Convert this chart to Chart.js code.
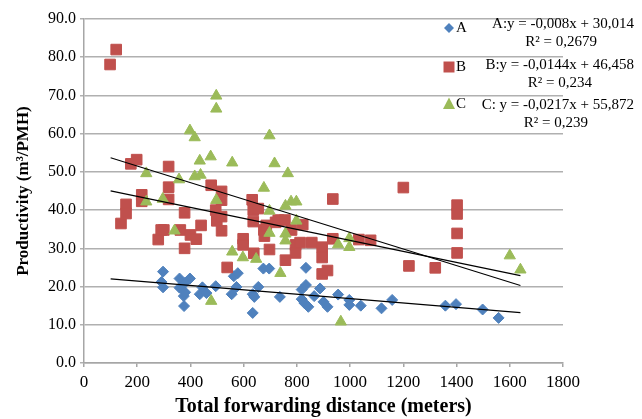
<!DOCTYPE html>
<html>
<head>
<meta charset="utf-8">
<script src="https://cdn.jsdelivr.net/npm/chart.js@4.4.1/dist/chart.umd.min.js"></script>
<style>
  body { margin: 0; background: #fff; }
  #wrap { width: 642px; height: 419px; }
</style>
</head>
<body>
<div id="wrap"><canvas id="myChart" width="642" height="419"></canvas></div>
<script>
// series names and colours
const seriesNames = ['A', 'B', 'C'];
const seriesColors = ['#4F81BD', '#C0504D', '#9BBB59'];

// A: [distance, productivity]
const dataA = [
  [297,23.9],[291,21.2],[297,19.8],[359,22.1],[359,19.7],[398,22.1],[380,21.0],[375,17.5],
  [376,14.9],[380,18.5],[435,18.0],[445,19.8],[460,18.3],[495,20.1],[555,18.0],[563,22.7],
  [573,19.9],[578,23.5],[634,18.0],[634,13.1],[640,17.3],[655,19.9],[674,24.7],[696,24.7],
  [736,17.3],[834,24.9],[818,19.2],[834,20.4],[818,16.7],[828,15.7],[843,14.7],[865,17.5],
  [887,19.5],[900,16.0],[915,14.7],[955,17.9],[997,16.5],[997,15.2],[1040,15.0],[1118,14.3],
  [1158,16.5],[1358,15.0],[1398,15.4],[1498,14.0],[1558,11.8]
];
// B
const dataB = [
  [98,78.1],[121,82.0],[139,36.5],[158,41.5],[158,39.1],[176,52.1],[198,53.2],[217,44.0],
  [217,42.3],[279,32.3],[290,34.8],[300,34.8],[318,51.4],[318,46.0],[318,42.8],[362,34.8],
  [378,39.3],[378,30.0],[400,33.5],[422,32.4],[440,36.0],[478,46.5],[495,40.0],[499,37.2],
  [517,44.9],[517,42.6],[517,38.3],[517,34.6],[538,25.0],[598,32.5],[598,30.9],[632,42.7],
  [636,40.0],[636,37.0],[638,28.7],[655,40.4],[676,34.8],[678,33.2],[685,36.0],[697,29.7],
  [720,36.8],[730,37.4],[755,37.4],[757,26.9],[780,34.8],[795,30.9],[795,28.8],[812,31.5],
  [822,36.2],[856,31.5],[895,30.3],[895,27.6],[895,23.3],[915,24.2],[935,42.9],[935,32.5],
  [1033,32.3],[1077,32.1],[1200,45.9],[1221,25.4],[1320,24.9],[1402,41.3],[1402,39.0],
  [1402,33.9],[1402,28.8]
];
// C
const dataC = [
  [234,49.6],[234,42.2],[296,42.9],[340,34.6],[357,48.0],[398,60.8],[416,59.0],[416,48.8],
  [435,52.9],[438,49.2],[476,54.0],[478,16.2],[497,69.9],[497,66.5],[497,42.6],[557,52.4],
  [557,29.1],[597,27.6],[647,27.2],[676,45.8],[697,59.5],[697,39.8],[697,34.0],[716,52.2],
  [738,23.5],[757,41.1],[757,33.8],[757,32.0],[766,49.6],[778,42.2],[798,42.2],[798,37.2],
  [955,31.0],[965,10.8],[997,32.6],[997,30.3],[1600,28.1],[1640,24.4]
];

// trend lines as drawn (slope, intercept) over this distance range
const trendSlope = [-0.00575, -0.0144, -0.0217];
const trendIntercept = [22.6, 46.458, 55.872];
const trendRange = [100, 1640];

// legend texts
const legendEq = ['A:y = -0,008x + 30,014', 'B:y = -0,0144x + 46,458', 'C: y = -0,0217x + 55,872'];
const legendR2 = ['R\u00b2 = 0,2679', 'R\u00b2 = 0,234', 'R\u00b2 = 0,239'];

const serif = "'Liberation Serif', 'Times New Roman', serif";

function toPts(arr) {
  return arr.map(function (p) { return { x: p[0], y: p[1] }; });
}

const pointStyles = ['rectRot', 'rect', 'triangle'];
const pointSizes = [5.5, 7.5, 6.5];
const allData = [dataA, dataB, dataC];

let datasets = [];
for (let i = 0; i < 3; i++) {
  let line = trendRange.map(function (x) {
    return { x: x, y: trendSlope[i] * x + trendIntercept[i] };
  });
  datasets.push({
    type: 'line',
    label: 'trend ' + seriesNames[i],
    data: line,
    borderColor: '#000',
    borderWidth: 1.2,
    pointRadius: 0,
    fill: false,
    order: 0
  });
}
for (let i = 0; i < 3; i++) {
  datasets.push({
    type: 'scatter',
    label: seriesNames[i],
    data: toPts(allData[i]),
    backgroundColor: seriesColors[i],
    borderColor: seriesColors[i],
    borderWidth: 1,
    pointStyle: pointStyles[i],
    pointRadius: pointSizes[i],
    order: 3 - i
  });
}

// custom legend with the regression equations
const eqLegend = {
  id: 'eqLegend',
  afterDraw(chart) {
    const ctx = chart.ctx;
    const markY = [28, 67, 104];
    const eqY = [24, 65, 105];
    const r2Y = [42, 83, 123];
    const r2Right = [597, 592, 588];
    ctx.save();
    for (let i = 0; i < 3; i++) {
      const y = markY[i];
      const mx = 449;
      ctx.fillStyle = seriesColors[i];
      ctx.beginPath();
      if (i === 0) {
        ctx.moveTo(mx - 5, y); ctx.lineTo(mx, y - 5); ctx.lineTo(mx + 5, y); ctx.lineTo(mx, y + 5);
      } else if (i === 1) {
        ctx.rect(mx - 5.5, y - 5.5, 11, 11);
      } else {
        ctx.moveTo(mx, y - 6.5); ctx.lineTo(mx + 6, y + 5); ctx.lineTo(mx - 6, y + 5);
      }
      ctx.closePath();
      ctx.fill();

      ctx.fillStyle = '#000';
      ctx.font = '15px ' + serif;
      ctx.textBaseline = 'middle';
      ctx.textAlign = 'left';
      ctx.fillText(seriesNames[i], 456, y);
      ctx.textAlign = 'right';
      ctx.fillText(legendEq[i], 634, eqY[i]);
      ctx.fillText(legendR2[i], r2Right[i], r2Y[i]);
    }
    ctx.restore();
  }
};

const config = {
  type: 'scatter',
  data: { datasets: datasets },
  options: {
    responsive: false,
    animation: false,
    devicePixelRatio: 1,
    layout: { padding: { left: 0, top: 19, right: 79, bottom: 0 } },
    plugins: {
      legend: { display: false },
      tooltip: { enabled: false }
    },
    scales: {
      x: {
        type: 'linear',
        min: 0, max: 1800,
        afterFit(scale) { scale.height = 56; },
        ticks: {
          stepSize: 200,
          color: '#000',
          padding: 5,
          maxRotation: 0,
          font: { family: serif, size: 17 },
          callback: function (v) { return String(v); }
        },
        grid: { drawOnChartArea: false, drawTicks: true, tickLength: 4, color: '#a6a6a6', lineWidth: 1.5 },
        border: { color: '#a6a6a6', width: 1.5 },
        title: {
          display: true,
          text: 'Total forwarding distance (meters)',
          color: '#000',
          font: { family: serif, size: 20, weight: 'bold' },
          padding: { top: 0, bottom: 0 }
        }
      },
      y: {
        min: 0, max: 90,
        afterFit(scale) { scale.width = 84; },
        ticks: {
          stepSize: 10,
          color: '#000',
          padding: 4,
          font: { family: serif, size: 16 },
          callback: function (v) { return v.toFixed(1); }
        },
        grid: { color: '#b0b0b0', lineWidth: 1.5, tickLength: 4 },
        border: { color: '#a6a6a6', width: 1.5 },
        title: {
          display: true,
          text: 'Productivity (m\u00b3/PMH)',
          color: '#000',
          font: { family: serif, size: 17, weight: 'bold' },
          padding: { top: 13, bottom: 0 }
        }
      }
    }
  },
  plugins: [eqLegend]
};

const myChart = new Chart(document.getElementById('myChart'), config);
</script>
</body>
</html>
